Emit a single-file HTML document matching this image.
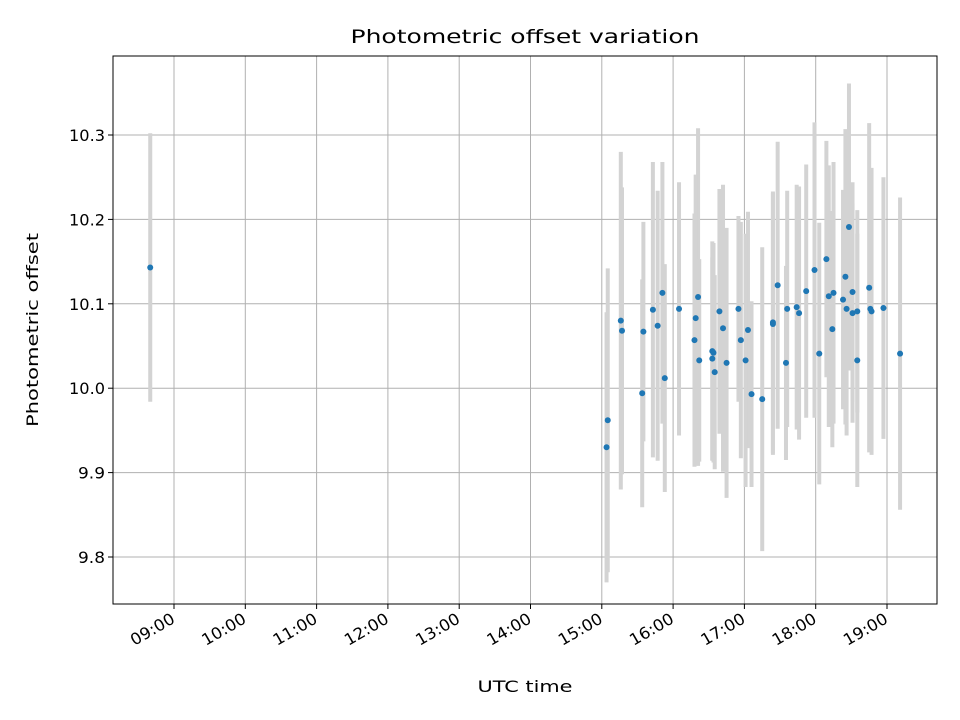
<!DOCTYPE html>
<html><head><meta charset="utf-8"><style>
html,body{margin:0;padding:0;background:#fff;}
svg{display:block;font-family:"DejaVu Sans","Liberation Sans",sans-serif;}
</style></head><body>
<svg id="chart" width="960" height="720" viewBox="0 0 960 720">
<rect x="0" y="0" width="960" height="720" fill="#fff"/>
<g id="grid"></g>
<g id="errs"></g>
<g id="pts"></g>
<rect x="113" y="56" width="824" height="548" fill="none" stroke="#000" stroke-width="1"/>
<g id="xt"></g>
<g id="yt"></g>
<text x="525" y="43" font-size="19" text-anchor="middle" textLength="349" lengthAdjust="spacingAndGlyphs">Photometric offset variation</text>
<text x="525" y="692" font-size="16" text-anchor="middle" textLength="95" lengthAdjust="spacingAndGlyphs">UTC time</text>
<text x="38" y="330" font-size="16" text-anchor="middle" textLength="194" lengthAdjust="spacingAndGlyphs" transform="rotate(-90 38 330)">Photometric offset</text>
</svg>
<script>
const times=["08:40","15:05","15:04","15:16","15:17","15:35","15:34","15:43","15:51","15:47","15:53","16:05","16:21","16:19","16:18","16:22","16:33","16:34","16:33","16:35","16:39","16:42","16:45","16:55","17:03","16:57","17:01","17:06","17:15","17:24","17:24","17:28","17:36","17:35","17:44","17:46","17:52","17:59","18:03","18:09","18:11","18:15","18:14","18:23","18:25","18:26","18:28","18:31","18:31","18:35","18:35","18:45","18:46","18:47","18:57","19:11"];
const values=[10.143,9.962,9.930,10.080,10.068,10.067,9.994,10.093,10.113,10.074,10.012,10.094,10.108,10.083,10.057,10.033,10.044,10.042,10.035,10.019,10.091,10.071,10.030,10.094,10.069,10.057,10.033,9.993,9.987,10.078,10.076,10.122,10.094,10.030,10.096,10.089,10.115,10.140,10.041,10.153,10.109,10.113,10.070,10.105,10.132,10.094,10.191,10.114,10.089,10.091,10.033,10.119,10.094,10.091,10.095,10.041];
const errors=[0.159,0.18,0.16,0.20,0.17,0.13,0.135,0.175,0.155,0.16,0.135,0.15,0.2,0.17,0.15,0.12,0.13,0.13,0.12,0.115,0.145,0.17,0.16,0.11,0.14,0.14,0.15,0.11,0.18,0.155,0.155,0.17,0.14,0.115,0.145,0.15,0.15,0.175,0.155,0.14,0.155,0.155,0.14,0.13,0.175,0.15,0.17,0.13,0.13,0.12,0.15,0.195,0.155,0.17,0.155,0.185];
const xTickLabels=["09:00","10:00","11:00","12:00","13:00","14:00","15:00","16:00","17:00","18:00","19:00"];
const yTickLabels=["9.8","9.9","10.0","10.1","10.2","10.3"];
const NS="http://www.w3.org/2000/svg";
function hrs(t){const p=t.split(":");return +p[0]+(+p[1])/60;}
function xs(h){return 174+(h-9)*71.3;}
function ys(v){return 135+(10.3-v)*844;}
function mk(tag,attrs,parent){const e=document.createElementNS(NS,tag);for(const k in attrs)e.setAttribute(k,attrs[k]);parent.appendChild(e);return e;}
const grid=document.getElementById('grid'),xt=document.getElementById('xt'),yt=document.getElementById('yt');
xTickLabels.forEach(l=>{const x=xs(hrs(l));
 const g=mk('line',{x1:x,x2:x,y1:56,y2:604,stroke:'#b0b0b0','stroke-width':1},grid);
 
 
 const t=mk('line',{x1:x,x2:x,y1:604,y2:609,stroke:'#000'},xt);
 
 
 const ax=x+2, ay=622;
 const tx=mk('text',{x:ax,y:ay,'font-size':16,'text-anchor':'end',textLength:48,lengthAdjust:'spacingAndGlyphs',transform:`rotate(-30 ${ax} ${ay})`},xt);
 tx.textContent=l;
 
 
});
yTickLabels.forEach(l=>{const y=ys(+l);
 const g=mk('line',{x1:113,x2:937,y1:y,y2:y,stroke:'#b0b0b0','stroke-width':1},grid);
 
 
 const t=mk('line',{x1:108,x2:113,y1:y,y2:y,stroke:'#000'},yt);
 
 
 const tx=mk('text',{x:105,y:y+6,'font-size':16,'text-anchor':'end',textLength:(l.length===4?36:27),lengthAdjust:'spacingAndGlyphs'},yt);
 tx.textContent=l;
 
 
});
const errs=document.getElementById('errs'),pts=document.getElementById('pts');
times.forEach((t,i)=>{const x=xs(hrs(t));
 const e=mk('line',{x1:x,x2:x,y1:ys(values[i]+errors[i]),y2:ys(values[i]-errors[i]),stroke:'#d3d3d3','stroke-width':4},errs);
 
 
});
times.forEach((t,i)=>{const x=xs(hrs(t));
 const c=mk('circle',{cx:x,cy:ys(values[i]),r:3,fill:'#1f77b4'},pts);
 
 
});
</script>
</body></html>
